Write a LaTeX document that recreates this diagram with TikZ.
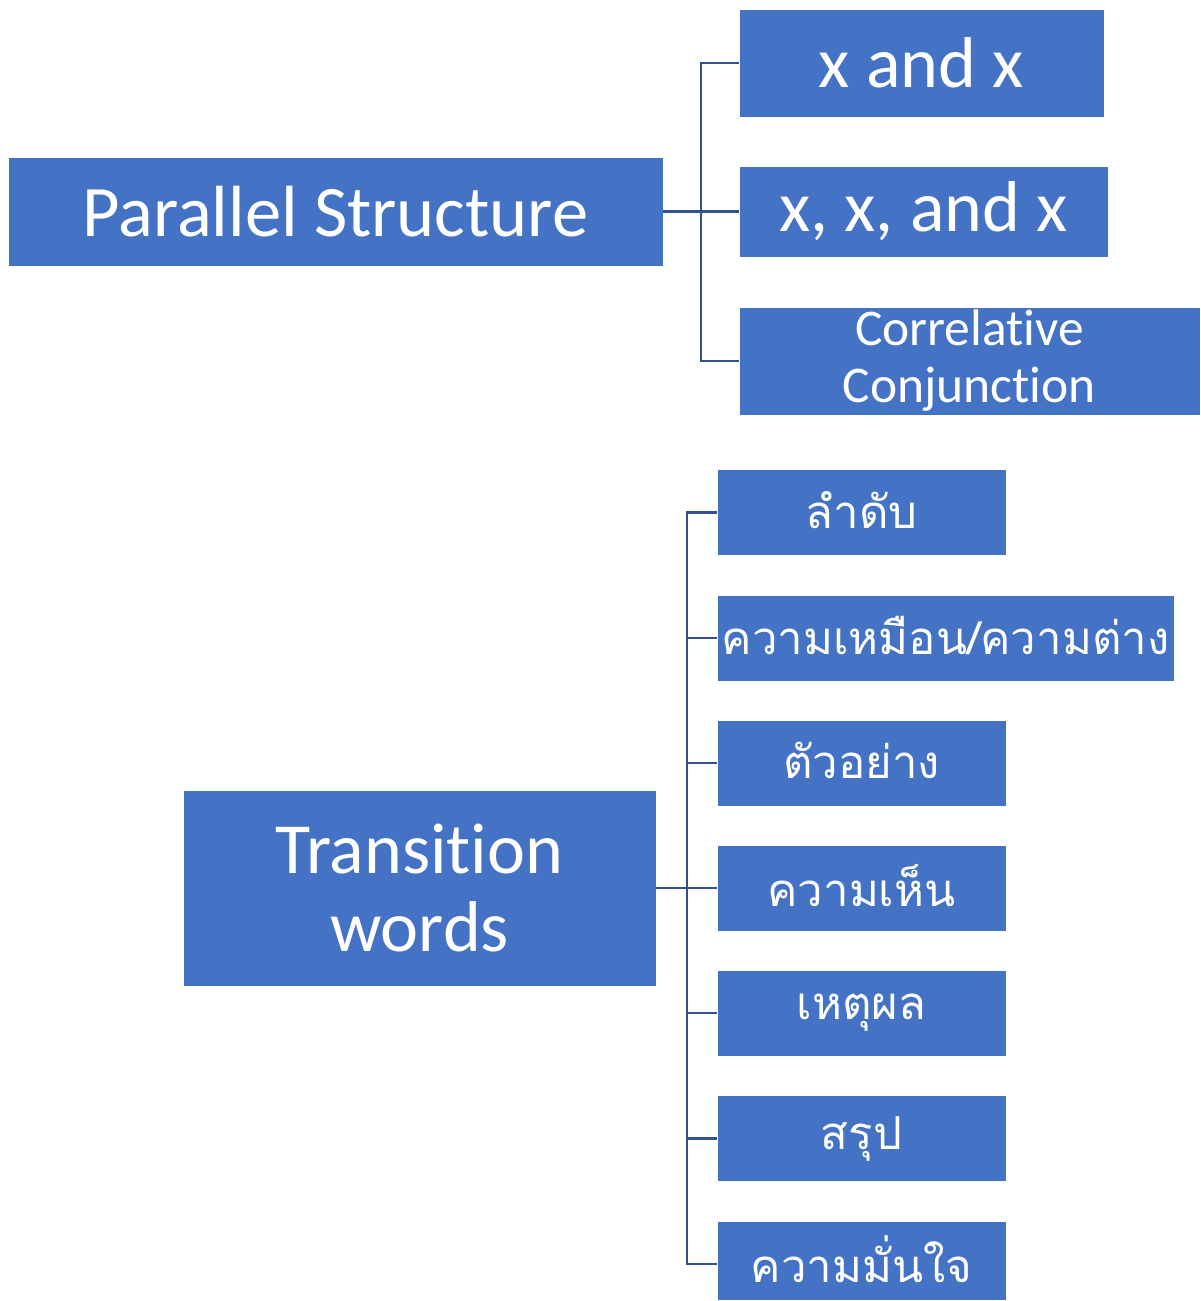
\documentclass[tikz,border=0pt]{standalone}
\usepackage{fontspec}
\setmainfont[Ligatures={TeX,NoCommon,NoContextual,NoRare},Contextuals=NoAlternate]{Carlito}
\newfontfamily\thaifont[Script=Thai]{Loma}
\usetikzlibrary{calc}
\definecolor{boxblue}{HTML}{4472C4}
\definecolor{lineblue}{HTML}{2F528F}
\newcommand{\thtxt}[2][5pt]{\raisebox{#1}{#2}}
\newcommand{\nolig}{\kern0pt }
\tikzset{
  box/.style={rectangle, fill=boxblue, draw=white, line width=0.8pt, inner sep=0pt, text=white, align=center},
  conn/.style={draw=lineblue, line width=2.4pt},
  thai/.style={box, minimum height=86pt, font=\thaifont\fontsize{45.5}{52}\selectfont},
}
\begin{document}
\begin{tikzpicture}[x=1pt,y=-1pt]
\useasboundingbox (0,0) rectangle (1200,1301);
% Parallel structure group
\node[box, minimum width=655pt, minimum height=109pt, font=\fontsize{72.5}{80}\selectfont] (par) at (335.5,211.5) {Parallel Structure};
\node[box, minimum width=365pt, minimum height=108pt, font=\fontsize{72}{80}\selectfont] (xax) at (921.5,63) {x and x};
\node[box, minimum width=369pt, minimum height=91pt, font=\fontsize{72}{80}\selectfont] (xxax) at (923.5,211.5) {x, x, and x};
\node[box, minimum width=461pt, minimum height=108pt, font=\fontsize{51.5}{57}\selectfont] (corr) at (969.5,361) {Correlat\nolig ive\\Conjunct\nolig ion};
\coordinate (b1) at (701,211.5);
\draw[conn] (par.east) -- (xxax.west);
\draw[conn] (xax.west) -| (b1) |- (corr.west);
% Transition words group
\node[box, minimum width=473pt, minimum height=196pt, font=\fontsize{72}{78}\selectfont] (tw) at (419.5,888) {Transit\nolig ion\\words};
\node[thai, minimum width=289pt] (t1) at (861.5,512.5) {\thtxt{ลำดับ}};
\node[thai, minimum width=457pt] (t2) at (945.5,638) {\thtxt{ความเหมือน/ความต่าง}};
\node[thai, minimum width=289pt] (t3) at (861.5,763) {\thtxt{ตัวอย่าง}};
\node[thai, minimum width=289pt] (t4) at (861.5,888) {\thtxt{ความเห็น}};
\node[thai, minimum width=289pt] (t5) at (861.5,1013) {\thtxt{เหตุผล}};
\node[thai, minimum width=289pt] (t6) at (861.5,1138.5) {\thtxt{สรุป}};
\node[thai, minimum width=289pt, minimum height=79pt] (t7) at (861.5,1260.5) {\thtxt[2pt]{ความมั่นใจ}};
\coordinate (b2) at (687,888);
\draw[conn] (tw.east) -- (t4.west);
\draw[conn] (t1.west) -| (b2) |- ($(t7.west)+(0,3.5)$);
\foreach \n in {t2,t3,t5,t6} { \draw[conn] (\n.west) -- (\n.west -| b2); }
\end{tikzpicture}
\end{document}
